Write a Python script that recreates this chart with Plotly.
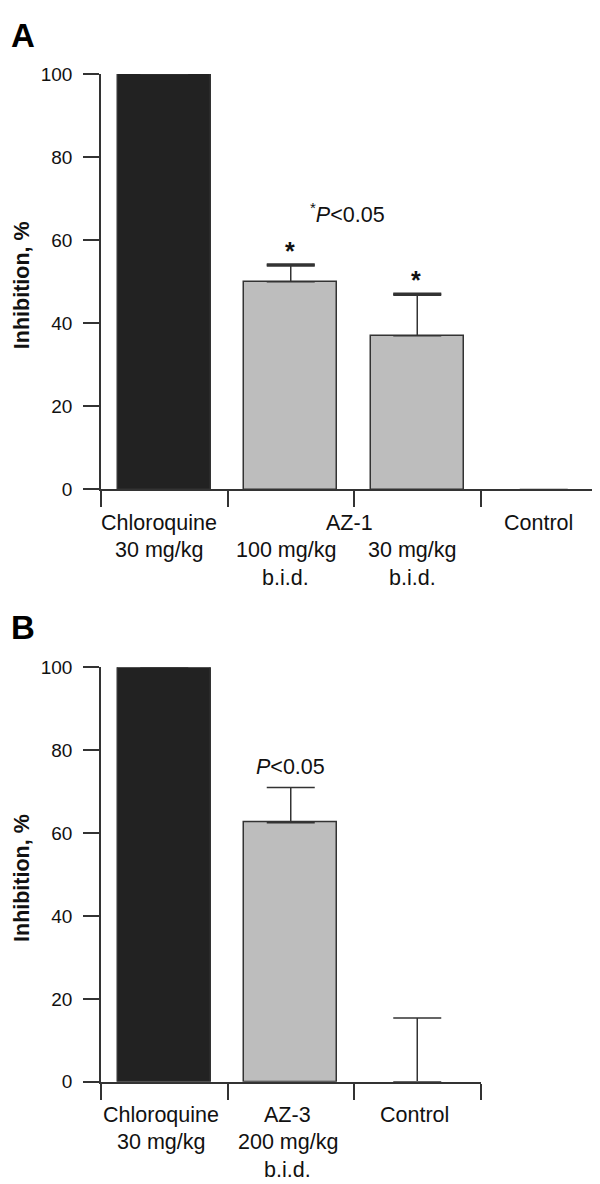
import plotly.graph_objects as go

W, H = 600, 1184
FONT = "Liberation Sans, Arial, Helvetica, sans-serif"
INK = "#111111"
LINE = "#333333"
BLACK = "#222222"
GREY = "#bdbdbd"

# ---------------- data ----------------
# Panel A
cats_a = ["Chloroquine 30 mg/kg", "AZ-1 100 mg/kg b.i.d.", "AZ-1 30 mg/kg b.i.d.", "Control"]
vals_a = [100, 50, 37, 0]
errs_a = [0, 4, 10, 0]
colors_a = [BLACK, GREY, GREY, GREY]
stars_a = ["", "*", "*", ""]
# label rows under axis A: (text, category position)
row1_a = [("Chloroquine", 0), ("AZ-1", 1.5), ("Control", 3)]
row2_a = [("30 mg/kg", 0), ("100 mg/kg", 1), ("30 mg/kg", 2)]
row3_a = [("b.i.d.", 1), ("b.i.d.", 2)]

# Panel B
cats_b = ["Chloroquine 30 mg/kg", "AZ-3 200 mg/kg b.i.d.", "Control"]
vals_b = [100, 62.5, 0]
errs_b = [0, 8.5, 15.4]
colors_b = [BLACK, GREY, GREY]
row1_b = [("Chloroquine", 0), ("AZ-3", 1), ("Control", 2)]
row2_b = [("30 mg/kg", 0), ("200 mg/kg", 1)]
row3_b = [("b.i.d.", 1)]

yticks = [0, 20, 40, 60, 80, 100]


def px(x):
    return x / W


def py(y):
    return 1 - y / H


fig = go.Figure()


def add_panel(xa, ya, vals, errs, colors, cap_thick):
    idx = list(range(len(vals)))
    fig.add_trace(go.Bar(
        x=idx, y=vals, width=0.735, xaxis=xa, yaxis=ya,
        marker=dict(color=colors,
                    line=dict(color=LINE, width=[1.5 if v > 0 else 0 for v in vals])),
        error_y=dict(type="data", symmetric=False, array=errs,
                     arrayminus=[0] * len(errs), color=LINE,
                     thickness=1.5, width=24),
        hoverinfo="skip", showlegend=False,
    ))
    # heavier caps on top of the error bars
    cx = [i for i, e in zip(idx, errs) if e > 0]
    cy = [v + e for v, e in zip(vals, errs) if e > 0]
    if cap_thick > 1.5 and cx:
        fig.add_trace(go.Scatter(
            x=cx, y=cy, xaxis=xa, yaxis=ya, mode="markers",
            marker=dict(size=1, opacity=0),
            error_y=dict(type="data", array=[0] * len(cx), color=LINE,
                         thickness=cap_thick, width=24),
            hoverinfo="skip", showlegend=False,
        ))


add_panel("x", "y", vals_a, errs_a, colors_a, 3.5)
add_panel("x2", "y2", vals_b, errs_b, colors_b, 1.5)

axis_common = dict(
    showgrid=False, zeroline=False, showline=True, linecolor=LINE, linewidth=1.5,
    ticks="outside", ticklen=16, tickwidth=1.5, tickcolor=LINE, fixedrange=True,
)
ytick_font = dict(size=19, color=INK, family=FONT)

fig.update_layout(
    width=W, height=H,
    margin=dict(l=0, r=0, t=0, b=0),
    paper_bgcolor="white", plot_bgcolor="white",
    showlegend=False,
    font=dict(family=FONT, color=INK, size=18),
    bargap=0,
    xaxis=dict(domain=[px(93), px(599)], anchor="y", range=[-0.5, len(vals_a) - 0.5],
               tickvals=[i - 0.5 for i in range(len(vals_a) + 1)], showticklabels=False,
               **axis_common),
    yaxis=dict(domain=[py(480), py(57)], anchor="x", range=[0, 100], tickvals=yticks,
               tickfont=ytick_font, ticklabelstandoff=7, **axis_common),
    xaxis2=dict(domain=[px(93), px(472.5)], anchor="y2", range=[-0.5, len(vals_b) - 0.5],
                tickvals=[i - 0.5 for i in range(len(vals_b) + 1)], showticklabels=False,
                **axis_common),
    yaxis2=dict(domain=[py(1083), py(661)], anchor="x2", range=[0, 100], tickvals=yticks,
                tickfont=ytick_font, ticklabelstandoff=7, **axis_common),
)

ann = []
LAB = 21.5


def rows(xref, yref, r1, r2, r3, dx):
    for shift, row in ((-33.5, r1), (-60.5, r2), (-88.5, r3)):
        for text, xpos in row:
            ann.append(dict(x=xpos, y=0, xref=xref, yref=yref, text=text, showarrow=False,
                            xanchor="center", yanchor="middle", yshift=shift, xshift=dx,
                            font=dict(size=LAB, color=INK, family=FONT)))


rows("x", "y", row1_a, row2_a, row3_a, -5)
rows("x2", "y2", row1_b, row2_b, row3_b, -3)

# significance stars (panel A)
for i, s in enumerate(stars_a):
    if s:
        ann.append(dict(x=i, y=vals_a[i] + errs_a[i], xref="x", yref="y", text="<b>*</b>",
                        showarrow=False, xanchor="center", yanchor="middle", yshift=14,
                        xshift=-1, font=dict(size=25, color=INK, family=FONT)))

ann.append(dict(x=1.5, y=66.6, xref="x", yref="y", xshift=-7,
                text="<sup>*</sup><i>P</i>&lt;0.05", showarrow=False,
                xanchor="center", yanchor="middle", font=dict(size=LAB, color=INK, family=FONT)))
ann.append(dict(x=1, y=vals_b[1] + errs_b[1], xref="x2", yref="y2", yshift=20,
                text="<i>P</i>&lt;0.05", showarrow=False,
                xanchor="center", yanchor="middle", font=dict(size=LAB, color=INK, family=FONT)))

# panel letters
ann.append(dict(x=px(1), y=py(17.5), xref="paper", yref="paper", text="<b>A</b>",
                showarrow=False, xanchor="left", yanchor="middle",
                font=dict(size=33, color="black", family=FONT)))
ann.append(dict(x=px(1), y=py(621), xref="paper", yref="paper", text="<b>B</b>",
                showarrow=False, xanchor="left", yanchor="middle",
                font=dict(size=33, color="black", family=FONT)))

# y-axis titles
for yc in (272, 875.5):
    ann.append(dict(x=px(14), y=py(yc), xref="paper", yref="paper",
                    text="<b>Inhibition, %</b>", textangle=-90, showarrow=False,
                    xanchor="center", yanchor="middle",
                    font=dict(size=LAB, color=INK, family=FONT)))

fig.update_layout(annotations=ann)
fig.write_html("out.html")
